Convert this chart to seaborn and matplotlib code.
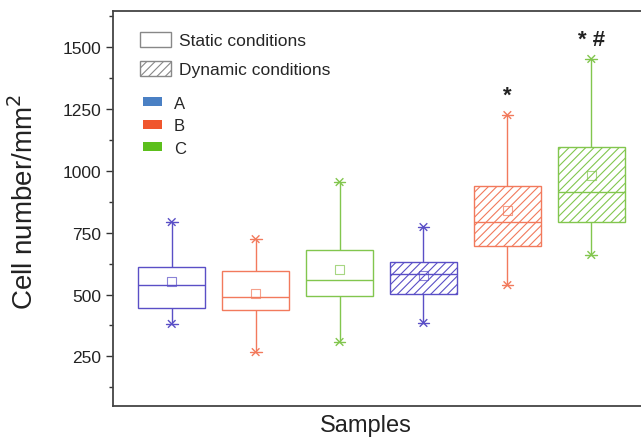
import numpy as np
import pandas as pd
import matplotlib
matplotlib.use('Agg')
import matplotlib.pyplot as plt
import seaborn as sns
from matplotlib.patches import Patch

samples = ['A static', 'B static', 'C static', 'A dynamic', 'B dynamic', 'C dynamic']
whisker_low = [381, 267, 308, 385, 538, 660]
q1 = [445, 437, 494, 502, 696, 793]
median = [538, 490, 559, 583, 793, 915]
q3 = [611, 595, 680, 631, 939, 1097]
whisker_high = [793, 724, 955, 773, 1226, 1453]
means = [551, 506, 603, 575, 838, 983]
dynamic = [False, False, False, True, True, True]
marks = ['', '', '', '', '*', '* #']
mark_y = [0, 0, 0, 0, 1305, 1532]
box_colors = ['#5a4fc6', '#f27a5c', '#82c64e', '#5a4fc6', '#f27a5c', '#82c64e']
group_names = ['A', 'B', 'C']
group_colors = ['#4a80c4', '#f0562e', '#5cbf1c']

palette = dict(zip(samples, box_colors))

rows = []
for s, a, b, c, d, e in zip(samples, whisker_low, q1, median, q3, whisker_high):
    for v in (a, b, c, d, e):
        rows.append({'sample': s, 'value': v})
df = pd.DataFrame(rows)
ends = pd.DataFrame({'sample': samples * 2, 'value': whisker_low + whisker_high})
mean_df = pd.DataFrame({'sample': samples, 'value': means})

sns.set_style('ticks')
plt.rcParams['font.family'] = ['Liberation Sans', 'DejaVu Sans']
plt.rcParams['hatch.linewidth'] = 0.8

fig = plt.figure(figsize=(6.41, 4.39), dpi=100)
ax = fig.add_axes([0.1763, 0.0729, 0.8378, 0.8998])

sns.boxplot(data=df, x='sample', y='value', hue='sample', palette=palette,
            whis=(0, 100), width=0.8, linewidth=1, showfliers=False,
            legend=False, ax=ax)

# recolour the boxes / lines per sample, hatch the dynamic ones
for p in ax.patches:
    pos = int(round(p.get_path().vertices[:, 0].mean()))
    p.set_facecolor('white')
    p.set_edgecolor(box_colors[pos])
    p.set_linewidth(1)
    if dynamic[pos]:
        p.set_hatch('////')

for ln in ax.lines:
    xd = np.asarray(ln.get_xdata(), dtype=float)
    yd = np.asarray(ln.get_ydata(), dtype=float)
    if len(xd) == 0:
        continue
    pos = int(round(xd.mean()))
    ln.set_color(box_colors[pos])
    ln.set_linewidth(1)
    ln.set_zorder(3)
    if len(xd) == 2 and yd[0] == yd[1] and abs(xd[1] - xd[0]) < 0.6:
        ln.set_xdata([pos - 0.07, pos + 0.07])

sns.scatterplot(data=ends, x='sample', y='value', hue='sample', palette=palette,
                marker='x', s=30, linewidth=1, legend=False, zorder=4, ax=ax)
sns.scatterplot(data=mean_df, x='sample', y='value', marker='s', s=42,
                legend=False, zorder=4, ax=ax)
mc = ax.collections[-1]
mc.set_facecolor('none')
mc.set_edgecolor(box_colors)
mc.set_linewidth(0.8)
mc.set_alpha(0.7)

for i, m in enumerate(marks):
    if m:
        ax.text(i, mark_y[i], m, ha='center', va='center', fontsize=16,
                fontweight='bold', color='#222222')

ax.set_xlim(-0.7, 5.7)
ax.set_ylim(49, 1647)
ax.set_yticks(np.arange(250, 1501, 250))
ax.set_yticks(np.arange(125, 1650, 250), minor=True)
ax.set_xticks([])
ax.tick_params(axis='y', which='major', length=5, width=1, labelsize=12.5,
               colors='#333333', labelcolor='#222222')
ax.tick_params(axis='y', which='minor', length=3, width=1, colors='#333333')
for sp in ax.spines.values():
    sp.set_color('#444444')
    sp.set_linewidth(1.3)
ax.set_ylabel('Cell number/mm$^2$', fontsize=20, color='#222222')
ax.yaxis.set_label_coords(-0.138, 0.519)
ax.set_xlabel('Samples', fontsize=17, color='#222222')
ax.xaxis.set_label_coords((366 - 113) / 537, -0.02)
ax.xaxis.label.set_va('top')

cond_handles = [Patch(facecolor='white', edgecolor='#888888', label='Static conditions'),
                Patch(facecolor='white', edgecolor='#888888', hatch='////',
                      label='Dynamic conditions')]
leg1 = ax.legend(handles=cond_handles, loc='upper left', bbox_to_anchor=(0.05, 0.947),
                 frameon=False, fontsize=12.5, handlelength=1.8, handleheight=0.93,
                 labelspacing=0.72, handletextpad=0.45, borderpad=0, borderaxespad=0)
ax.add_artist(leg1)

grp_handles = [Patch(facecolor=c, edgecolor='none', label=n)
               for n, c in zip(group_names, group_colors)]
ax.legend(handles=grp_handles, loc='upper left', bbox_to_anchor=(0.056, 0.785),
          frameon=False, fontsize=12, handlelength=1.15, handleheight=0.45,
          labelspacing=0.45, handletextpad=0.7, borderpad=0, borderaxespad=0)

fig.savefig('out.png', dpi=100)
